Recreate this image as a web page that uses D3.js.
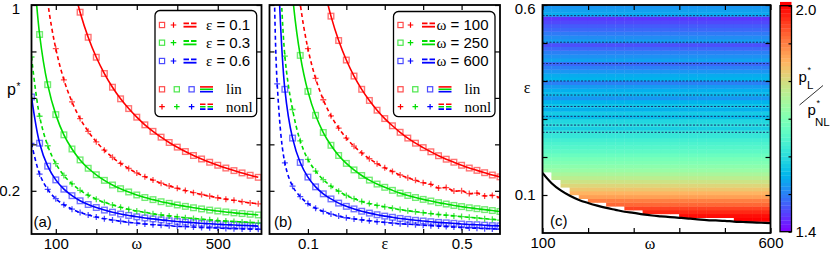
<!DOCTYPE html>
<html>
<head>
<meta charset="utf-8">
<script src="https://cdn.jsdelivr.net/npm/d3@7"></script>
<style>
body { margin: 0; background: #fff; }
svg { display: block; font-family: "Liberation Sans", Arial, sans-serif; }
</style>
</head>
<body>
<svg id="fig" width="830" height="253"></svg>
<script>
// ---- panel (a): p* vs omega, one curve per epsilon
var omegaA = [40, 60, 80, 100, 120, 140, 160, 180, 200, 220, 240, 260, 280, 300, 320, 340, 360, 380, 400, 420, 440, 460, 480, 500, 520, 540, 560, 580, 600];
var epsValues = ["0.1", "0.3", "0.6"];
var linEps01 = [null, null, null, null, null, 1.107, 0.969, 0.861, 0.775, 0.705, 0.646, 0.596, 0.554, 0.517, 0.484, 0.456, 0.431, 0.408, 0.388, 0.369, 0.352, 0.337, 0.323, 0.310, 0.298, 0.287, 0.277, 0.267, 0.258];
var linEps03 = [1.305, 0.873, 0.657, 0.528, 0.441, 0.380, 0.333, 0.297, 0.269, 0.245, 0.225, 0.209, 0.195, 0.182, 0.171, 0.162, 0.153, 0.146, 0.139, 0.133, 0.127, 0.122, 0.117, 0.113, 0.109, 0.105, 0.102, 0.099, 0.096];
var linEps06 = [0.604, 0.405, 0.306, 0.247, 0.207, 0.179, 0.157, 0.141, 0.128, 0.117, 0.108, 0.100, 0.094, 0.088, 0.083, 0.079, 0.075, 0.071, 0.068, 0.065, 0.063, 0.060, 0.058, 0.056, 0.054, 0.053, 0.051, 0.050, 0.048];
var nonlEps01 = [null, 1.347, 1.013, 0.812, 0.678, 0.583, 0.511, 0.456, 0.411, 0.375, 0.344, 0.318, 0.296, 0.277, 0.261, 0.246, 0.233, 0.221, 0.211, 0.201, 0.192, 0.184, 0.177, 0.170, 0.164, 0.159, 0.153, 0.148, 0.144];
var nonlEps03 = [0.776, 0.521, 0.394, 0.317, 0.266, 0.230, 0.202, 0.181, 0.164, 0.150, 0.139, 0.129, 0.120, 0.113, 0.107, 0.101, 0.096, 0.092, 0.088, 0.084, 0.081, 0.078, 0.075, 0.072, 0.070, 0.068, 0.066, 0.064, 0.062];
var nonlEps06 = [0.404, 0.272, 0.206, 0.166, 0.140, 0.121, 0.107, 0.096, 0.087, 0.080, 0.074, 0.069, 0.064, 0.061, 0.057, 0.054, 0.052, 0.050, 0.047, 0.046, 0.044, 0.042, 0.041, 0.040, 0.038, 0.037, 0.036, 0.035, 0.034];

// ---- panel (b): p* vs epsilon, one curve per omega
var epsB = [0.01, 0.02, 0.04, 0.06, 0.08, 0.10, 0.12, 0.14, 0.16, 0.18, 0.20, 0.22, 0.24, 0.26, 0.28, 0.30, 0.32, 0.34, 0.36, 0.38, 0.40, 0.42, 0.44, 0.46, 0.48, 0.50, 0.52, 0.54, 0.56, 0.58, 0.60];
var omegaValues = ["100", "250", "600"];
var linW100 = [null, null, null, null, null, null, null, 1.087, 0.952, 0.847, 0.763, 0.694, 0.637, 0.589, 0.547, 0.511, 0.480, 0.452, 0.427, 0.405, 0.386, 0.368, 0.351, 0.336, 0.323, 0.310, 0.298, 0.288, 0.278, 0.268, 0.260];
var linW250 = [null, null, 1.558, 1.041, 0.783, 0.628, 0.525, 0.451, 0.396, 0.352, 0.318, 0.290, 0.266, 0.246, 0.229, 0.215, 0.202, 0.190, 0.180, 0.171, 0.163, 0.156, 0.149, 0.143, 0.137, 0.132, 0.127, 0.123, 0.119, 0.115, 0.111];
var linW600 = [null, 1.267, 0.637, 0.427, 0.322, 0.259, 0.217, 0.187, 0.165, 0.147, 0.133, 0.122, 0.112, 0.104, 0.097, 0.091, 0.086, 0.081, 0.077, 0.073, 0.070, 0.067, 0.064, 0.062, 0.060, 0.057, 0.055, 0.054, 0.052, 0.050, 0.049];
var nonlW100 = [null, null, null, 1.325, 1.005, 0.812, 0.684, 0.592, 0.523, 0.470, 0.427, 0.392, 0.363, 0.338, 0.317, 0.299, 0.283, 0.268, 0.256, 0.245, 0.235, 0.228, 0.212, 0.214, 0.199, 0.200, 0.188, 0.190, 0.178, 0.180, 0.170];
var nonlW250 = [null, 1.5, 0.78, 0.55, 0.415, 0.335, 0.285, 0.248, 0.220, 0.198, 0.180, 0.166, 0.154, 0.145, 0.137, 0.131, 0.125, 0.119, 0.114, 0.110, 0.106, 0.102, 0.098, 0.095, 0.092, 0.089, 0.086, 0.083, 0.080, 0.077, 0.074];
var nonlW600 = [1.35, 0.66, 0.32, 0.22, 0.175, 0.145, 0.125, 0.111, 0.100, 0.091, 0.084, 0.079, 0.075, 0.071, 0.067, 0.064, 0.061, 0.058, 0.056, 0.054, 0.052, 0.050, 0.048, 0.046, 0.044, 0.042, 0.040, 0.039, 0.037, 0.036, 0.034];

// ---- panel (c): ratio p*_L / p*_NL on an (omega, eps) grid
var heatOmega = [100, 120, 140, 160, 180, 200, 220, 240, 260, 280, 300, 320, 340, 360, 380, 400, 420, 440, 460, 480, 500, 520, 540, 560, 580];
var heatEps = [0.02, 0.03, 0.04, 0.05, 0.06, 0.07, 0.08, 0.09, 0.10, 0.11, 0.12, 0.13, 0.14, 0.15, 0.16, 0.17, 0.18, 0.19, 0.20, 0.21, 0.22, 0.23, 0.24, 0.25, 0.26, 0.27, 0.28, 0.29, 0.30, 0.31, 0.32, 0.33, 0.34, 0.35, 0.36, 0.37, 0.38, 0.39, 0.40, 0.41, 0.42, 0.43, 0.44, 0.45, 0.46, 0.47, 0.48, 0.49, 0.50, 0.51, 0.52, 0.53, 0.54, 0.55, 0.56, 0.57, 0.58, 0.59];
var heatRatio = [2.00, 2.00, 1.99, 1.97, 1.95, 1.92, 1.90, 1.87, 1.85, 1.83, 1.81, 1.79, 1.77, 1.75, 1.73, 1.715, 1.70, 1.69, 1.675, 1.66, 1.65, 1.64, 1.63, 1.615, 1.615, 1.58, 1.60, 1.59, 1.56, 1.575, 1.545, 1.57, 1.55, 1.52, 1.56, 1.545, 1.525, 1.50, 1.55, 1.54, 1.52, 1.50, 1.48, 1.53, 1.515, 1.50, 1.48, 1.46, 1.525, 1.51, 1.495, 1.48, 1.47, 1.455, 1.44, 1.54, 1.53, 1.52];
var heatStepOmega = 20, heatStepEps = 0.01;
var critOmega = [100, 120, 140, 160, 180, 200, 220, 240, 260, 280, 300, 320, 340, 360, 380, 400, 420, 440, 460, 480, 500, 520, 540, 560, 580, 600];
var critEps = [0.158, 0.131, 0.112, 0.098, 0.087, 0.079, 0.072, 0.066, 0.061, 0.056, 0.053, 0.049, 0.046, 0.044, 0.042, 0.040, 0.038, 0.036, 0.034, 0.033, 0.032, 0.030, 0.029, 0.028, 0.027, 0.026];
var dottedEps = [0.572, 0.502, 0.446, 0.40, 0.363, 0.333, 0.307, 0.284, 0.265];

var red = "#ff0000", green = "#00dd00", blue = "#0000ff";
var rgb = [red, green, blue];
var serif = "'Liberation Serif', 'DejaVu Serif', serif";

var svg = d3.select("#fig");
var defs = svg.append("defs");

var boxA = {left: 31.5, right: 261.5, top: 5, bottom: 234},
    boxB = {left: 269.5, right: 500, top: 5, bottom: 234},
    boxC = {left: 542.5, right: 770.5, top: 5, bottom: 233},
    boxBar = {left: 780, right: 791.5, top: 5.7, bottom: 231.7};

var xA = d3.scaleLinear().domain([40, 608]).range([boxA.left, boxA.right]);
var xB = d3.scaleLinear().domain([0, 0.6]).range([boxB.left, boxB.right]);
var yP = d3.scaleLinear().domain([0.014, 1]).range([boxA.bottom, boxA.top]);
var xC = d3.scaleLinear().domain([100, 600]).range([boxC.left, boxC.right]);
var yC = d3.scaleLinear().domain([0, 0.6]).range([boxC.bottom, boxC.top]);
var yBar = d3.scaleLinear().domain([1.4, 2.0]).range([boxBar.bottom, boxBar.top]);

// gnuplot style rainbow palette (rgbformulae 33,13,10)
function palette(t) {
  t = Math.max(0, Math.min(1, t));
  var r = Math.min(1, Math.abs(2 * t - 0.5)),
      g = Math.sin(Math.PI * t),
      b = Math.max(0, Math.cos(Math.PI * t / 2));
  return d3.rgb(r * 255, g * 255, b * 255) + "";
}
function ratioColor(v) { return palette((v - 1.4) / 0.6); }

function clip(id, box) {
  defs.append("clipPath").attr("id", id).append("rect")
    .attr("x", box.left).attr("y", box.top)
    .attr("width", box.right - box.left).attr("height", box.bottom - box.top);
}
clip("clipA", boxA); clip("clipB", boxB); clip("clipC", boxC);

function plusPath(s) {
  return "M" + (-s) + ",0H" + s + "M0," + (-s) + "V" + s;
}

function drawSeries(g, xs, x, series) {
  var line = d3.line()
    .defined(function(d) { return d[1] != null; })
    .x(function(d) { return x(d[0]); })
    .y(function(d) { return yP(d[1]); })
    .curve(d3.curveCatmullRom);

  series.forEach(function(s) {
    var pts = d3.zip(xs, s.vals).filter(function(d) { return d[1] != null; });
    if (s.lin) {
      g.selectAll(null).data(pts).enter().append("rect")
        .attr("x", function(d) { return x(d[0]) - 2.8; })
        .attr("y", function(d) { return yP(d[1]) - 2.8; })
        .attr("width", 5.6).attr("height", 5.6)
        .attr("fill", "none").attr("stroke", s.color)
        .attr("stroke-width", 1.4).attr("stroke-opacity", 0.55);
    } else {
      g.selectAll(null).data(pts).enter().append("path")
        .attr("transform", function(d) { return "translate(" + x(d[0]) + "," + yP(d[1]) + ")"; })
        .attr("d", plusPath(3))
        .attr("stroke", s.color).attr("stroke-width", 1.3).attr("stroke-opacity", 0.7);
    }
  });
  series.forEach(function(s) {
    g.append("path")
      .datum(d3.zip(xs, s.vals))
      .attr("d", line)
      .attr("fill", "none")
      .attr("stroke", s.color)
      .attr("stroke-width", 1.6)
      .attr("stroke-dasharray", s.lin ? null : "4,3");
  });
}

function styleAxis(sel, fs) {
  sel.select(".domain").remove();
  sel.selectAll(".tick line").attr("stroke", "#000").attr("stroke-width", 1.2);
  sel.selectAll(".tick text").attr("font-size", fs).attr("fill", "#000")
    .attr("font-family", "'Liberation Sans', Arial, sans-serif");
}

function labelFmt(labeled, f) {
  return function(d) { return labeled.indexOf(d) >= 0 ? f(d) : ""; };
}

function frameAxes(box, x, y, xTicks, xLab, yTicks, yLab, yFmt, yPad) {
  var bottom = svg.append("g").attr("transform", "translate(0," + box.bottom + ")")
    .call(d3.axisBottom(x).tickValues(xTicks).tickSize(-5).tickPadding(4).tickFormat(labelFmt(xLab, String)));
  styleAxis(bottom, 15);
  var top = svg.append("g").attr("transform", "translate(0," + box.top + ")")
    .call(d3.axisTop(x).tickValues(xTicks).tickSize(-5).tickFormat(""));
  styleAxis(top, 15);
  var left = svg.append("g").attr("transform", "translate(" + box.left + ",0)")
    .call(d3.axisLeft(y).tickValues(yTicks).tickSize(-5).tickPadding(yPad).tickFormat(labelFmt(yLab, yFmt)));
  styleAxis(left, 15);
  // keep the top label inside the figure
  left.selectAll(".tick text").filter(function(d) { return Math.abs(y(d) - box.top) < 2; }).attr("y", 4);
  var right = svg.append("g").attr("transform", "translate(" + box.right + ",0)")
    .call(d3.axisRight(y).tickValues(yTicks).tickSize(-5).tickFormat(""));
  styleAxis(right, 15);
  svg.append("rect")
    .attr("x", box.left).attr("y", box.top)
    .attr("width", box.right - box.left).attr("height", box.bottom - box.top)
    .attr("fill", "none").attr("stroke", "#000").attr("stroke-width", 1.8);
}

function legend(box, keyName, keys, plusOff) {
  var g = svg.append("g");
  g.append("rect")
    .attr("x", box.x0).attr("y", box.y0)
    .attr("width", box.x1 - box.x0).attr("height", box.y1 - box.y0)
    .attr("rx", 5).attr("fill", "#fff").attr("stroke", "#000").attr("stroke-width", 1.3);
  var rowY = [25, 42.7, 61];
  keys.forEach(function(k, i) {
    var yy = rowY[i], c = rgb[i];
    g.append("rect").attr("x", box.x0 + 7 - 2.6).attr("y", yy - 2.6).attr("width", 5.2).attr("height", 5.2)
      .attr("fill", "none").attr("stroke", c).attr("stroke-width", 1.2).attr("stroke-opacity", 0.7);
    g.append("path").attr("transform", "translate(" + (box.x0 + plusOff) + "," + yy + ")")
      .attr("d", plusPath(2.8)).attr("stroke", c).attr("stroke-width", 1.2);
    g.append("line").attr("x1", box.x0 + 28.5).attr("x2", box.x0 + 41.5).attr("y1", yy - 1.7).attr("y2", yy - 1.7)
      .attr("stroke", c).attr("stroke-width", 1.8).attr("stroke-dasharray", "5.5,2");
    g.append("line").attr("x1", box.x0 + 28.5).attr("x2", box.x0 + 41.5).attr("y1", yy + 1.7).attr("y2", yy + 1.7)
      .attr("stroke", c).attr("stroke-width", 1.8);
    var t = g.append("text").attr("x", box.x1 - 6.5).attr("y", yy + 5)
      .attr("text-anchor", "end").attr("font-size", 15);
    t.append("tspan").attr("font-family", serif).text(keyName);
    t.append("tspan").text(" = " + k);
  });
  var yLin = 89.3, yNonl = 106.7;
  rgb.forEach(function(c, i) {
    var xx = box.x0 + 7 + i * 14.8;
    g.append("rect").attr("x", xx - 2.6).attr("y", yLin - 2.6).attr("width", 5.2).attr("height", 5.2)
      .attr("fill", "none").attr("stroke", c).attr("stroke-width", 1.2).attr("stroke-opacity", 0.7);
    g.append("path").attr("transform", "translate(" + xx + "," + yNonl + ")")
      .attr("d", plusPath(2.8)).attr("stroke", c).attr("stroke-width", 1.2);
    g.append("line").attr("x1", box.x0 + 45).attr("x2", box.x0 + 58)
      .attr("y1", yLin - 2.4 + i * 2.4).attr("y2", yLin - 2.4 + i * 2.4)
      .attr("stroke", c).attr("stroke-width", 1.6);
    g.append("line").attr("x1", box.x0 + 45).attr("x2", box.x0 + 58)
      .attr("y1", yNonl - 2.4 + i * 2.4).attr("y2", yNonl - 2.4 + i * 2.4)
      .attr("stroke", c).attr("stroke-width", 1.6).attr("stroke-dasharray", "5.5,2");
  });
  g.append("text").attr("x", box.x0 + 71).attr("y", yLin + 5).attr("font-size", 15)
    .attr("font-family", serif).text("lin");
  g.append("text").attr("x", box.x0 + 71).attr("y", yNonl + 5).attr("font-size", 15)
    .attr("font-family", serif).text("nonl");
}

// ---------- panel (a)
var gA = svg.append("g").attr("clip-path", "url(#clipA)");
drawSeries(gA, omegaA, xA, [
  {vals: linEps01, color: red, lin: true},
  {vals: linEps03, color: green, lin: true},
  {vals: linEps06, color: blue, lin: true},
  {vals: nonlEps01, color: red, lin: false},
  {vals: nonlEps03, color: green, lin: false},
  {vals: nonlEps06, color: blue, lin: false}
]);
frameAxes(boxA, xA, yP, [100, 200, 300, 400, 500], [100, 500],
  [0.2, 0.4, 0.6, 0.8, 1], [0.2, 1], d3.format("~g"), 11.5);
legend({x0: 155, x1: 256.7, y0: 10.5, y1: 116.7}, "\u03b5", epsValues, 18.5);

// ---------- panel (b)
var gB = svg.append("g").attr("clip-path", "url(#clipB)");
drawSeries(gB, epsB, xB, [
  {vals: linW100, color: red, lin: true},
  {vals: linW250, color: green, lin: true},
  {vals: linW600, color: blue, lin: true},
  {vals: nonlW100, color: red, lin: false},
  {vals: nonlW250, color: green, lin: false},
  {vals: nonlW600, color: blue, lin: false}
]);
frameAxes(boxB, xB, yP, [0.1, 0.2, 0.3, 0.4, 0.5], [0.1, 0.5],
  [0.2, 0.4, 0.6, 0.8, 1], [], String, 4);
legend({x0: 393.5, x1: 495, y0: 11.5, y1: 116.7}, "\u03c9", omegaValues, 17);

// ---------- panel (c) heat map
var cells = [];
heatEps.forEach(function(e, i) {
  heatOmega.forEach(function(w) {
    var limit = critEps[critOmega.indexOf(w)];
    if (e >= limit - 1e-9) cells.push({w: w, e: e, r: heatRatio[i]});
  });
});
var gC = svg.append("g").attr("clip-path", "url(#clipC)");
gC.selectAll("rect.cell").data(cells).enter().append("rect")
  .attr("class", "cell")
  .attr("x", function(d) { return xC(d.w) - 0.2; })
  .attr("y", function(d) { return yC(d.e + heatStepEps) - 0.2; })
  .attr("width", function(d) { return xC(d.w + heatStepOmega) - xC(d.w) + 0.4; })
  .attr("height", function(d) { return yC(d.e) - yC(d.e + heatStepEps) + 0.4; })
  .attr("fill", function(d) { return ratioColor(d.r); });

gC.selectAll("line.dot").data(dottedEps).enter().append("line")
  .attr("x1", boxC.left).attr("x2", boxC.right)
  .attr("y1", function(d) { return yC(d); }).attr("y2", function(d) { return yC(d); })
  .attr("stroke", "#1c2a70").attr("stroke-width", 1).attr("stroke-dasharray", "2,1.5");

gC.append("path")
  .datum(d3.zip(critOmega, critEps))
  .attr("d", d3.line().x(function(d) { return xC(d[0]); }).y(function(d) { return yC(d[1]); }).curve(d3.curveCatmullRom))
  .attr("fill", "none").attr("stroke", "#000").attr("stroke-width", 2.2);

frameAxes(boxC, xC, yC, [100, 200, 300, 400, 500, 600], [100, 600],
  [0.1, 0.2, 0.3, 0.4, 0.5, 0.6], [0.1, 0.6], d3.format(".1f"), 7);

// ---------- colour bar
var bands = d3.range(1.4, 2.0, 0.01);
svg.append("g").selectAll("rect").data(bands).enter().append("rect")
  .attr("x", boxBar.left).attr("width", boxBar.right - boxBar.left)
  .attr("y", function(d) { return yBar(d + 0.01); })
  .attr("height", function(d) { return yBar(d) - yBar(d + 0.01) + 0.3; })
  .attr("fill", function(d) { return ratioColor(d + 0.005); });
var barAxis = svg.append("g").attr("transform", "translate(" + boxBar.right + ",0)")
  .call(d3.axisRight(yBar).tickValues([1.4, 1.5, 1.6, 1.7, 1.8, 1.9, 2.0]).tickSize(-3).tickPadding(4)
    .tickFormat(labelFmt([1.4, 2.0], d3.format(".1f"))));
styleAxis(barAxis, 15);
barAxis.selectAll(".tick text").filter(function(d) { return d === 2.0; }).attr("y", 4);
svg.append("rect")
  .attr("x", boxBar.left).attr("y", boxBar.top)
  .attr("width", boxBar.right - boxBar.left).attr("height", boxBar.bottom - boxBar.top)
  .attr("fill", "none").attr("stroke", "#000").attr("stroke-width", 1.3);

// ---------- axis titles and panel tags
function label(x, y, txt, opts) {
  var t = svg.append("text").attr("x", x).attr("y", y).attr("font-size", (opts && opts.size) || 15)
    .attr("text-anchor", (opts && opts.anchor) || "start").text(txt);
  if (opts && opts.serif) t.attr("font-family", serif);
  return t;
}
label(xA(300), 249, "\u03c9", {anchor: "middle", serif: true, size: 16});
label(xB(0.3), 249, "\u03b5", {anchor: "middle", serif: true, size: 16});
label(650, 249, "\u03c9", {anchor: "middle", serif: true, size: 16});
label(527, 93, "\u03b5", {anchor: "middle", serif: true, size: 16});
label(7, 95, "p", {size: 16});
label(16.5, 90, "*", {size: 10});
label(33.5, 227, "(a)");
label(274, 227, "(b)");
label(550, 226, "(c)");

// colour bar title p*_L / p*_NL
label(798.5, 82, "p", {size: 15});
label(807.5, 73, "*", {size: 9});
label(807, 89, "L", {size: 11.5});
svg.append("line").attr("x1", 799.5).attr("y1", 105).attr("x2", 823).attr("y2", 85.5)
  .attr("stroke", "#000").attr("stroke-width", 0.8);
label(807.5, 115, "p", {size: 15});
label(816.5, 106, "*", {size: 9});
label(815, 126, "NL", {size: 11.5});
</script>
</body>
</html>
